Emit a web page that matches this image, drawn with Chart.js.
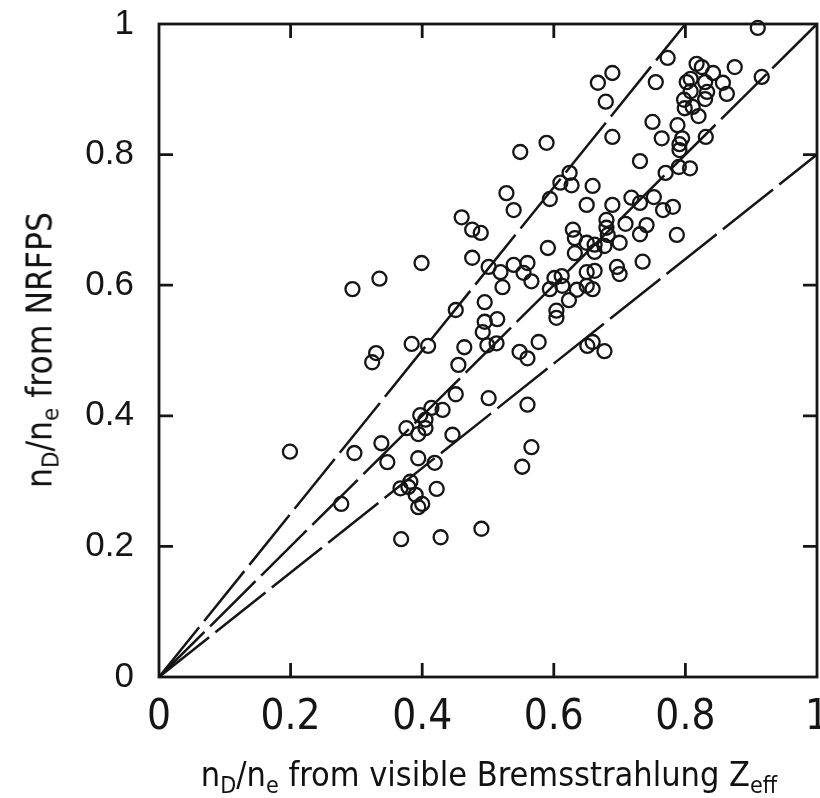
<!DOCTYPE html>
<html><head><meta charset="utf-8">
<script src="https://cdn.jsdelivr.net/npm/chart.js@4/dist/chart.umd.min.js"></script>
<style>
html,body{margin:0;padding:0;background:#fff;overflow:hidden;width:820px;height:798px;}
#wrap{position:relative;width:820px;height:798px;overflow:hidden;background:#fff;}
canvas{position:absolute;left:0;top:0;}
.t{position:absolute;font-family:"Liberation Sans Narrow","Arial Narrow","DejaVu Sans Condensed",sans-serif;font-size:34px;color:#111;white-space:nowrap;line-height:1;}
.t sub{font-size:0.68em;vertical-align:-0.3em;line-height:0;}
#xt{left:489px;top:774px;transform:translate(-50%,-50%);}
#yt{left:40px;top:350px;transform:translate(-50%,-50%) rotate(-90deg);font-size:35px;}
</style></head><body>
<div id="wrap">
<canvas id="c" width="836" height="798"></canvas>
<div class="t" id="xt">n<sub>D</sub>/n<sub>e</sub> from visible Bremsstrahlung Z<sub>eff</sub></div>
<div class="t" id="yt">n<sub>D</sub>/n<sub>e</sub> from NRFPS</div>
</div>
<script>
// measured points: x = n_D/n_e from visible Bremsstrahlung, y = n_D/n_e from NRFPS
const xVals = [
 0.199,0.297,0.338,0.347,0.277,0.384,0.409,0.330,0.324,0.464,0.492,0.499,0.455,0.451,0.501,
 0.397,0.414,0.431,0.405,0.376,0.394,0.405,0.446,0.394,0.419,0.382,0.367,0.379,0.390,0.394,
 0.400,0.422,0.368,0.428,0.490,0.460,0.476,0.489,0.476,0.399,0.335,0.294,0.451,0.495,0.495,
 0.528,0.539,0.501,0.519,0.539,0.560,0.554,0.566,0.522,0.514,0.513,0.577,0.548,0.560,0.560,
 0.566,0.552,0.589,0.689,0.731,0.624,0.610,0.627,0.659,0.594,0.650,0.689,0.718,0.731,0.680,
 0.680,0.709,0.741,0.731,0.629,0.632,0.682,0.650,0.662,0.677,0.700,0.591,0.632,0.662,0.735,
 0.696,0.700,0.601,0.612,0.650,0.662,0.594,0.613,0.635,0.650,0.659,0.623,0.604,0.604,0.651,
 0.659,0.677,0.910,0.773,0.689,0.667,0.755,0.679,0.817,0.825,0.842,0.875,0.802,0.808,0.830,
 0.857,0.808,0.833,0.863,0.798,0.830,0.916,0.799,0.811,0.820,0.750,0.788,0.764,0.831,0.795,
 0.791,0.791,0.790,0.807,0.770,0.549,0.752,0.766,0.781,0.787
];
const yVals = [
 0.345,0.343,0.358,0.329,0.265,0.510,0.507,0.496,0.482,0.505,0.528,0.508,0.478,0.433,0.427,
 0.401,0.412,0.409,0.394,0.381,0.372,0.381,0.371,0.335,0.328,0.299,0.289,0.291,0.279,0.260,
 0.265,0.288,0.211,0.214,0.227,0.704,0.685,0.680,0.642,0.634,0.610,0.594,0.562,0.574,0.544,
 0.741,0.715,0.628,0.620,0.631,0.634,0.619,0.606,0.597,0.548,0.511,0.513,0.498,0.488,0.417,
 0.352,0.322,0.818,0.827,0.790,0.772,0.757,0.753,0.752,0.732,0.723,0.723,0.734,0.726,0.700,
 0.688,0.694,0.692,0.678,0.685,0.672,0.677,0.665,0.662,0.660,0.665,0.657,0.649,0.651,0.636,
 0.628,0.617,0.611,0.614,0.620,0.622,0.594,0.599,0.593,0.599,0.594,0.577,0.561,0.550,0.507,
 0.513,0.499,0.994,0.948,0.925,0.910,0.911,0.881,0.939,0.934,0.925,0.934,0.911,0.916,0.911,
 0.910,0.897,0.896,0.893,0.884,0.885,0.919,0.871,0.873,0.859,0.850,0.845,0.825,0.827,0.825,
 0.816,0.807,0.781,0.779,0.772,0.804,0.735,0.715,0.720,0.677
];
// reference lines through the origin: y = s * x
const refSlopes = [1.25, 1, 0.8];
const xTickLabels = ['0','0.2','0.4','0.6','0.8','1'];
const yTickLabels = ['0','0.2','0.4','0.6','0.8','1'];

const points = xVals.map((x,i)=>({x:x, y:yVals[i]}));
const lineSets = refSlopes.map(s => ({
  type:'line',
  data:[{x:0,y:0},{x:Math.min(1,1/s), y:Math.min(1,s)}],
  borderColor:'#151515', borderWidth:2.5, borderDash:[64,8],
  pointRadius:0, pointHoverRadius:0, fill:false, tension:0, clip:false
}));

const frame = {
  id:'frame',
  afterDraw(chart){
    const {ctx, chartArea:a, scales} = chart;
    ctx.save();
    ctx.strokeStyle='#151515';
    ctx.lineWidth=2.8;
    ctx.strokeRect(a.left, a.top, a.right-a.left, a.bottom-a.top);
    const L=14;
    ctx.beginPath();
    scales.x.ticks.forEach(t=>{
      const p = scales.x.getPixelForValue(t.value);
      if (p <= a.left+2 || p >= a.right-2) return;
      ctx.moveTo(p,a.bottom); ctx.lineTo(p,a.bottom-L);
      ctx.moveTo(p,a.top); ctx.lineTo(p,a.top+L);
    });
    scales.y.ticks.forEach(t=>{
      const p = scales.y.getPixelForValue(t.value);
      if (p >= a.bottom-2 || p <= a.top+2) return;
      ctx.moveTo(a.left,p); ctx.lineTo(a.left+L,p);
      ctx.moveTo(a.right,p); ctx.lineTo(a.right-L,p);
    });
    ctx.stroke();
    ctx.restore();
  }
};

new Chart(document.getElementById('c'), {
  type:'scatter',
  data:{datasets:[
    ...lineSets,
    {type:'scatter', data:points, pointStyle:'circle', pointRadius:7, pointHoverRadius:7,
     borderWidth:2.3, borderColor:'#151515', backgroundColor:'rgba(0,0,0,0)', clip:false}
  ]},
  options:{
    responsive:false, devicePixelRatio:1, animation:false, events:[],
    layout:{padding:{left:0, right:19, top:24, bottom:0}},
    plugins:{legend:{display:false}, tooltip:{enabled:false}},
    scales:{
      x:{type:'linear', min:0, max:1,
         grid:{display:false, drawTicks:false, tickLength:0}, border:{display:false},
         ticks:{stepSize:0.2, padding:16, color:'#151515', maxRotation:0, autoSkip:false,
                font:{family:'"Liberation Sans Narrow","Arial Narrow","DejaVu Sans Condensed",sans-serif', size:42},
                callback:(v,i)=>xTickLabels[i]},
         afterFit(s){ s.height = 121; s.paddingLeft = 0; s.paddingRight = 0; }},
      y:{type:'linear', min:0, max:1,
         grid:{display:false, drawTicks:false, tickLength:0}, border:{display:false},
         ticks:{stepSize:0.2, padding:25, color:'#151515', autoSkip:false,
                font:{family:'"Liberation Sans",Arial,sans-serif', size:35},
                callback:(v,i)=>yTickLabels[i]},
         afterFit(s){ s.width = 159; s.paddingTop = 0; s.paddingBottom = 0; }}
    }
  },
  plugins:[frame]
});
</script>
</body></html>
